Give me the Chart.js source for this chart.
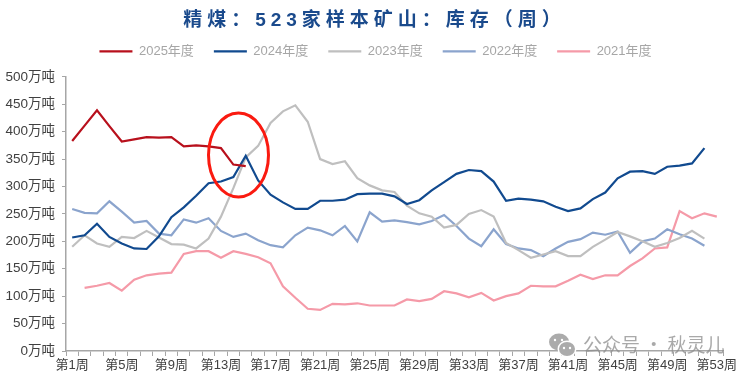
<!DOCTYPE html>
<html>
<head>
<meta charset="utf-8">
<script src="https://cdn.jsdelivr.net/npm/chart.js@4/dist/chart.umd.js"></script>
<style>
  html, body { margin: 0; background: #fff; }
</style>
</head>
<body>
<canvas id="chart1" width="750" height="376"></canvas>
<script>
const weeks = [];
for (let w = 1; w <= 53; w++) weeks.push('第' + w + '周');

const y2025 = [383, 411, 439, 410, 382, 386, 390, 389, 390, 373, 375, 373, 370, 340, 337];
const y2024 = [207, 211, 232, 208, 196, 187, 186, 209, 244, 262, 283, 306, 309, 317, 356, 311, 285, 271, 259, 259, 274, 274, 276, 286, 287, 287, 282, 268, 275, 293, 308, 323, 330, 328, 309, 274, 278, 276, 273, 263, 255, 260, 277, 289, 315, 327, 328, 323, 336, 338, 342, 370];
const y2023 = [190, 211, 196, 190, 208, 206, 219, 207, 195, 194, 187, 205, 245, 297, 353, 374, 416, 437, 448, 418, 350, 341, 346, 315, 302, 293, 290, 265, 251, 245, 225, 230, 250, 257, 245, 197, 184, 170, 176, 182, 173, 173, 190, 203, 217, 209, 200, 190, 197, 206, 219, 205];
const y2022 = [259, 252, 251, 273, 254, 234, 237, 214, 211, 240, 234, 242, 219, 208, 214, 202, 193, 189, 211, 225, 220, 211, 228, 200, 253, 236, 238, 235, 231, 237, 248, 228, 205, 191, 222, 195, 187, 184, 173, 187, 199, 204, 216, 212, 218, 179, 200, 205, 222, 213, 205, 192];
const y2021 = [null, 115, 119, 124, 110, 130, 138, 141, 143, 177, 182, 182, 170, 182, 177, 171, 160, 118, 97, 77, 75, 86, 85, 87, 83, 83, 83, 94, 91, 95, 109, 105, 98, 106, 92, 100, 105, 119, 118, 118, 128, 139, 131, 138, 138, 155, 169, 187, 189, 255, 242, 251, 245];

const yTicks = [0, 50, 100, 150, 200, 250, 300, 350, 400, 450, 500];
const textFont = '"Liberation Sans", "Noto Sans CJK SC", sans-serif';

function line(label, data, color) {
    return {
        label: label,
        data: data,
        borderColor: color,
        backgroundColor: color,
        borderWidth: 2.2,
        pointRadius: 0,
        tension: 0,
        spanGaps: false,
    };
}

// nudges a title or legend box after layout, spacing is for the title
function shiftBox(box, ctx, dx, dy, spacing) {
    const draw = box.draw;
    box.draw = function () {
        ctx.save();
        ctx.letterSpacing = spacing;
        ctx.translate(dx, dy);
        draw.call(this);
        ctx.restore();
    };
}

// red ellipse and the watermark sit on top of the finished chart
const overlay = {
    id: 'overlay',
    afterInit(chart) {
        shiftBox(chart.titleBlock, chart.ctx, 13, 1, '5px');
        shiftBox(chart.legend, chart.ctx, 14, -9, '0px');
    },
    afterDraw(chart) {
        const c = chart.ctx;
        c.save();
        c.strokeStyle = '#fa1a10';
        c.lineWidth = 3;
        c.beginPath();
        c.ellipse(238.5, 155, 30, 42, 0, 0, Math.PI * 2);
        c.stroke();

        c.fillStyle = 'rgba(150,150,150,0.8)';
        c.beginPath();
        c.ellipse(559, 342, 10, 8.5, 0, 0, Math.PI * 2);
        c.fill();
        c.fillStyle = '#fff';
        c.beginPath();
        c.ellipse(567, 349, 9.5, 8.5, 0, 0, Math.PI * 2);
        c.fill();
        c.fillStyle = 'rgba(150,150,150,0.8)';
        c.beginPath();
        c.ellipse(567, 349, 8, 7, 0, 0, Math.PI * 2);
        c.fill();
        c.fillStyle = '#fff';
        [[555, 340], [562, 340], [564, 348], [570, 348]].forEach(p => {
            c.beginPath();
            c.arc(p[0], p[1], 1.2, 0, Math.PI * 2);
            c.fill();
        });

        c.fillStyle = 'rgba(140,140,140,0.75)';
        c.font = '19px "Noto Sans CJK SC", sans-serif';
        c.textBaseline = 'middle';
        c.fillText('公众号 · 秋灵儿', 583, 345);
        c.restore();
    },
};

new Chart(document.getElementById('chart1').getContext('2d'), {
    type: 'line',
    data: {
        labels: weeks,
        datasets: [
            line('2025年度', y2025, '#b8101c'),
            line('2024年度', y2024, '#114a8f'),
            line('2023年度', y2023, '#bfbfbf'),
            line('2022年度', y2022, '#8ba4cd'),
            line('2021年度', y2021, '#f59aa8'),
        ],
    },
    options: {
        responsive: false,
        animation: false,
        layout: { padding: { left: 0, right: 27, top: 0, bottom: 0 } },
        plugins: {
            tooltip: { enabled: false },
            title: {
                display: true,
                text: '精煤：523家样本矿山：库存（周）',
                color: '#1a4a8c',
                font: { family: textFont, size: 19, weight: 'bold' },
                padding: { top: 8, bottom: 3 },
            },
            legend: {
                display: true,
                position: 'top',
                labels: {
                    boxWidth: 33,
                    boxHeight: 0,
                    padding: 20,
                    color: '#a6a6a6',
                    font: { family: textFont, size: 13 },
                },
            },
        },
        scales: {
            x: {
                offset: true,
                afterFit(scale) { scale.height = 25; },
                border: { color: '#a6a6a6', width: 1.5 },
                grid: {
                    offset: true,
                    drawOnChartArea: false,
                    drawTicks: true,
                    tickLength: 5,
                    color: '#a6a6a6',
                },
                ticks: {
                    autoSkip: false,
                    maxRotation: 0,
                    padding: 2,
                    color: '#404040',
                    font: { family: textFont, size: 13 },
                    callback(v, i) { return i % 4 === 0 ? weeks[i] : ''; },
                },
            },
            y: {
                min: 0,
                max: 500,
                afterFit(scale) { scale.width = 66; },
                afterBuildTicks(scale) { scale.ticks = yTicks.map(v => ({ value: v })); },
                border: { color: '#a6a6a6', width: 1.5 },
                grid: {
                    drawOnChartArea: false,
                    drawTicks: true,
                    tickLength: 4,
                    color: '#a6a6a6',
                },
                ticks: {
                    padding: 7,
                    color: '#404040',
                    font: { family: textFont, size: 13.5 },
                    callback(v) { return v + '万吨'; },
                },
            },
        },
    },
    plugins: [overlay],
});
</script>
</body>
</html>
